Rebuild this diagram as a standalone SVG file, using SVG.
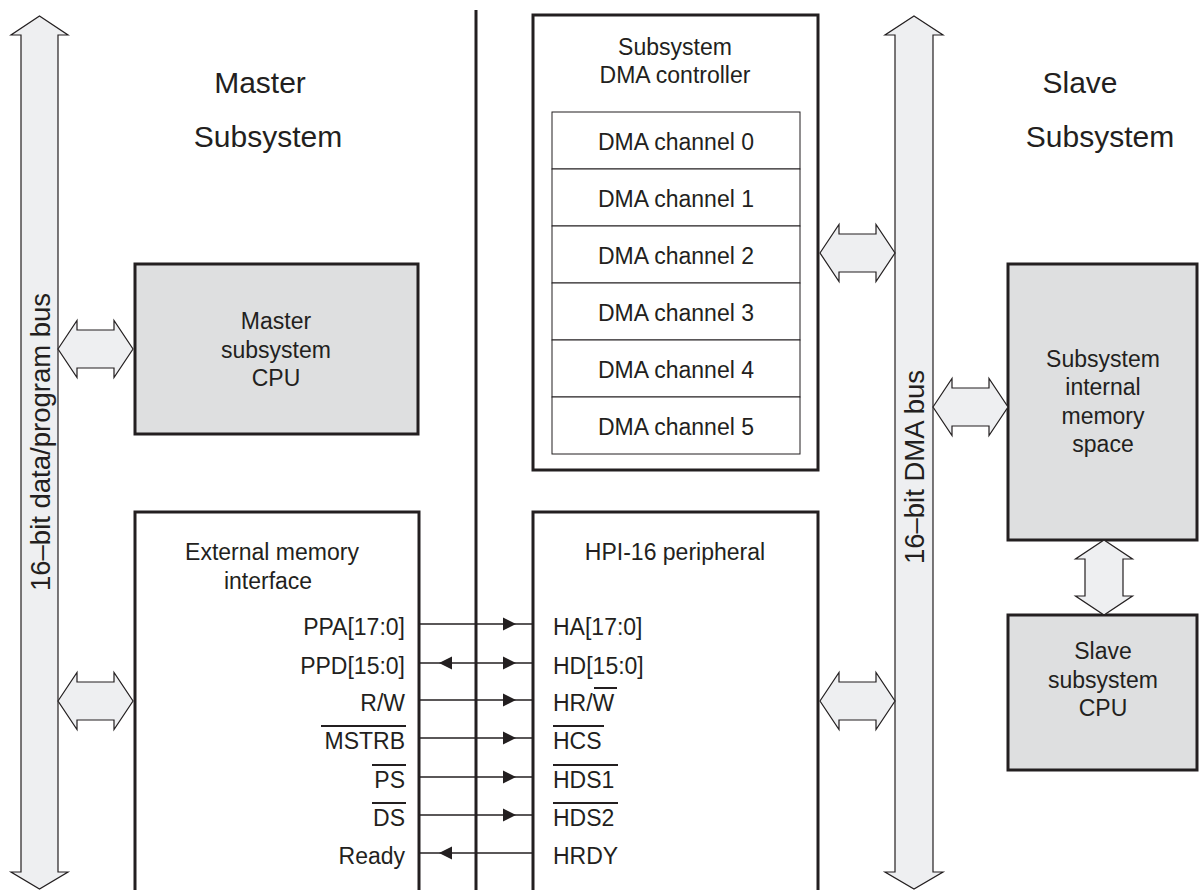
<svg xmlns="http://www.w3.org/2000/svg" xmlns:xlink="http://www.w3.org/1999/xlink" width="1199" height="890" viewBox="0 0 1199 890">
<style>
text{font-family:"Liberation Sans",Arial,sans-serif;fill:#231f20;font-size:23px}
.title{font-size:30px}
.buslbl{font-size:27.5px}
.mid{text-anchor:middle}
.end{text-anchor:end}
.box{fill:#ffffff;stroke:#231f20;stroke-width:3}
.gbox{fill:#dedfe0;stroke:#231f20;stroke-width:3}
.chan{fill:#ffffff;stroke:#231f20;stroke-width:1}
.bus{fill:#eeeff1;stroke:#231f20;stroke-width:1.2;stroke-linejoin:miter}
.sig{stroke:#231f20;stroke-width:1.3;fill:none}
.ov{stroke:#231f20;stroke-width:2;fill:none}
</style>
<defs>
<path id="dbl" d="M-37.5,0 L-18.5,-28.5 L-18.5,-19 L18.5,-19 L18.5,-28.5 L37.5,0 L18.5,28.5 L18.5,19 L-18.5,19 L-18.5,28.5 Z"/>
<path id="ar" d="M-13,-6.5 L0,0 L-13,6.5 Z"/>
<path id="al" d="M13,-6.5 L0,0 L13,6.5 Z"/>
</defs>

<!-- divider -->
<line x1="476" y1="10" x2="476" y2="890" stroke="#231f20" stroke-width="3"/>

<g id="left-bus">
<path class="bus" d="M39.5,16 L68,35 L58,35 L58,872 L68,872 L39.5,889 L11,872 L21,872 L21,35 L11,35 Z"/>
<text class="mid buslbl" transform="translate(50,442) rotate(-90)">16–bit data/program bus</text>
</g>

<g id="right-bus">
<path class="bus" d="M914,16 L943,35 L933,35 L933,872 L943,872 L914,889 L885,872 L895,872 L895,35 L885,35 Z"/>
<text class="mid buslbl" transform="translate(924,467) rotate(-90)">16–bit DMA bus</text>
</g>

<g id="master-title">
<text class="title mid" x="260" y="93">Master</text>
<text class="title mid" x="268" y="147">Subsystem</text>
</g>
<g id="slave-title">
<text class="title mid" x="1080" y="93">Slave</text>
<text class="title mid" x="1100" y="147">Subsystem</text>
</g>

<g id="master-cpu">
<rect class="gbox" x="135" y="264" width="283" height="170"/>
<text class="mid" x="276" y="329">Master</text>
<text class="mid" x="276" y="358">subsystem</text>
<text class="mid" x="276" y="386">CPU</text>
</g>

<g id="emi">
<rect class="box" x="135" y="512" width="284" height="390"/>
<text class="mid" x="272" y="560">External  memory</text>
<text class="mid" x="268" y="589">interface</text>
<text class="end" x="405" y="635">PPA[17:0]</text>
<text class="end" x="405" y="674">PPD[15:0]</text>
<text class="end" x="405" y="711">R/W</text>
<text class="end" x="405" y="749">MSTRB</text>
<text class="end" x="405" y="788">PS</text>
<text class="end" x="405" y="826">DS</text>
<text class="end" x="405" y="864">Ready</text>
<line class="ov" x1="321" y1="726" x2="406" y2="726"/>
<line class="ov" x1="372" y1="765" x2="406" y2="765"/>
<line class="ov" x1="372" y1="803" x2="406" y2="803"/>
</g>

<g id="hpi">
<rect class="box" x="533" y="512" width="285" height="390"/>
<text class="mid" x="675" y="560">HPI-16 peripheral</text>
<text x="553" y="635">HA[17:0]</text>
<text x="553" y="674">HD[15:0]</text>
<text x="553" y="711">HR/W</text>
<text x="553" y="749">HCS</text>
<text x="553" y="788">HDS1</text>
<text x="553" y="826">HDS2</text>
<text x="553" y="864">HRDY</text>
<line class="ov" x1="594" y1="688" x2="617" y2="688"/>
<line class="ov" x1="553" y1="726" x2="604" y2="726"/>
<line class="ov" x1="553" y1="765" x2="618" y2="765"/>
<line class="ov" x1="553" y1="803" x2="618" y2="803"/>
</g>

<g id="dma-controller">
<rect class="box" x="533" y="15" width="285" height="455"/>
<text class="mid" x="675" y="55">Subsystem</text>
<text class="mid" x="675" y="83">DMA controller</text>
<rect class="chan" x="552" y="112" width="248" height="57"/>
<rect class="chan" x="552" y="169" width="248" height="57"/>
<rect class="chan" x="552" y="226" width="248" height="57"/>
<rect class="chan" x="552" y="283" width="248" height="57"/>
<rect class="chan" x="552" y="340" width="248" height="57"/>
<rect class="chan" x="552" y="397" width="248" height="57"/>
<text class="mid" x="676" y="150">DMA channel 0</text>
<text class="mid" x="676" y="207">DMA channel 1</text>
<text class="mid" x="676" y="264">DMA channel 2</text>
<text class="mid" x="676" y="321">DMA channel 3</text>
<text class="mid" x="676" y="378">DMA channel 4</text>
<text class="mid" x="676" y="435">DMA channel 5</text>
</g>

<g id="internal-memory">
<rect class="gbox" x="1008" y="264" width="189" height="276"/>
<text class="mid" x="1103" y="367">Subsystem</text>
<text class="mid" x="1103" y="395">internal</text>
<text class="mid" x="1103" y="424">memory</text>
<text class="mid" x="1103" y="452">space</text>
</g>

<g id="slave-cpu">
<rect class="gbox" x="1008" y="615" width="189" height="155"/>
<text class="mid" x="1103" y="659">Slave</text>
<text class="mid" x="1103" y="688">subsystem</text>
<text class="mid" x="1103" y="716">CPU</text>
</g>

<g id="connectors">
<use xlink:href="#dbl" class="bus" transform="translate(95.5,349)"/>
<use xlink:href="#dbl" class="bus" transform="translate(95.5,701)"/>
<use xlink:href="#dbl" class="bus" transform="translate(857.5,253)"/>
<use xlink:href="#dbl" class="bus" transform="translate(970.5,407)"/>
<use xlink:href="#dbl" class="bus" transform="translate(857.5,701)"/>
<use xlink:href="#dbl" class="bus" transform="translate(1104,577.5) rotate(90)"/>
<line class="sig" x1="419" y1="624" x2="533" y2="624"/>
<line class="sig" x1="419" y1="663" x2="533" y2="663"/>
<line class="sig" x1="419" y1="700" x2="533" y2="700"/>
<line class="sig" x1="419" y1="738" x2="533" y2="738"/>
<line class="sig" x1="419" y1="777" x2="533" y2="777"/>
<line class="sig" x1="419" y1="815" x2="533" y2="815"/>
<line class="sig" x1="419" y1="853" x2="533" y2="853"/>
<g fill="#231f20">
<use xlink:href="#ar" transform="translate(516,624)"/>
<use xlink:href="#ar" transform="translate(516,663)"/>
<use xlink:href="#al" transform="translate(439,663)"/>
<use xlink:href="#ar" transform="translate(516,700)"/>
<use xlink:href="#ar" transform="translate(516,738)"/>
<use xlink:href="#ar" transform="translate(516,777)"/>
<use xlink:href="#ar" transform="translate(516,815)"/>
<use xlink:href="#al" transform="translate(439,853)"/>
</g>
</g>
</svg>
